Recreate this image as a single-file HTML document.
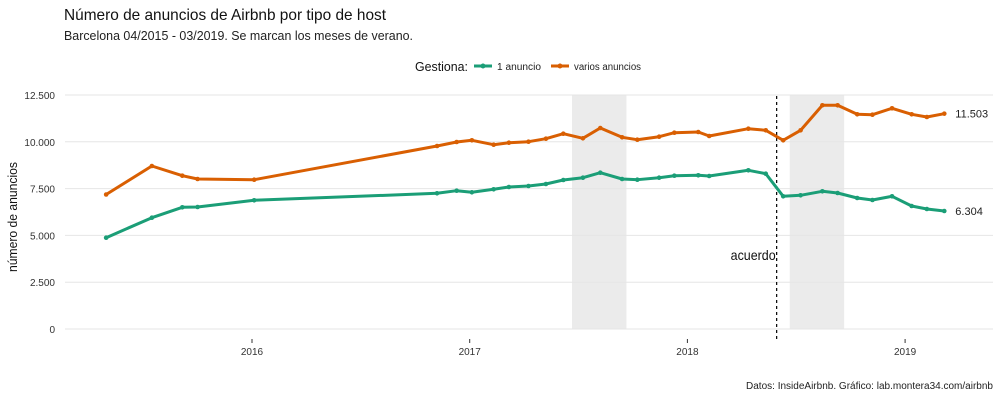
<!DOCTYPE html>
<html><head><meta charset="utf-8"><style>
body{margin:0;background:#fff;}
svg{font-family:"Liberation Sans Narrow","Liberation Sans",sans-serif;}
</style></head><body>
<svg id="chart" width="1000" height="400" viewBox="0 0 1000 400">
<text x="64" y="20" font-size="16" fill="#111" textLength="322" lengthAdjust="spacingAndGlyphs">Número de anuncios de Airbnb por tipo de host</text>
<text x="64" y="40" font-size="13" fill="#222" textLength="349" lengthAdjust="spacingAndGlyphs">Barcelona 04/2015 - 03/2019. Se marcan los meses de verano.</text>
<g>
<text x="415" y="71" font-size="13" fill="#111" textLength="53" lengthAdjust="spacingAndGlyphs">Gestiona:</text>
<g><line x1="474" y1="66" x2="492" y2="66" stroke="#1b9e77" stroke-width="3"/><circle cx="483" cy="66" r="2.5" fill="#1b9e77"/><text x="497" y="70" font-size="10" fill="#222" textLength="44" lengthAdjust="spacingAndGlyphs">1 anuncio</text></g>
<g><line x1="551" y1="66" x2="569" y2="66" stroke="#d95f02" stroke-width="3"/><circle cx="560" cy="66" r="2.5" fill="#d95f02"/><text x="574" y="70" font-size="10" fill="#222" textLength="67" lengthAdjust="spacingAndGlyphs">varios anuncios</text></g>
</g>
<g id="shades"></g><g id="grid"></g><g id="axes"></g><g id="series"></g>
<text x="12" y="212" font-size="13" fill="#111" transform="rotate(-90 17 212)" text-anchor="middle" textLength="110" lengthAdjust="spacingAndGlyphs">número de anuncios</text>
<text x="993" y="389" font-size="10" fill="#222" text-anchor="end" textLength="247" lengthAdjust="spacingAndGlyphs">Datos: InsideAirbnb. Gráfico: lab.montera34.com/airbnb</text>
</svg>
<script>
const dates=[2015.33,2015.54,2015.68,2015.75,2016.01,2016.85,2016.94,2017.01,2017.11,2017.18,2017.27,2017.35,2017.43,2017.52,2017.60,2017.70,2017.77,2017.87,2017.94,2018.05,2018.10,2018.28,2018.36,2018.44,2018.52,2018.62,2018.69,2018.78,2018.85,2018.94,2019.03,2019.10,2019.18];
const varios=[7185,8707,8189,8013,7976,9776,9989,10080,9845,9952,10005,10166,10433,10187,10737,10240,10112,10272,10486,10524,10310,10700,10614,10080,10614,11950,11950,11469,11448,11790,11469,11325,11503];
const uno=[4877,5946,6501,6517,6875,7249,7388,7303,7463,7585,7639,7746,7959,8082,8349,8013,7976,8082,8189,8210,8173,8478,8296,7089,7142,7356,7265,6998,6891,7089,6571,6410,6304];
const yTicks=[0,2500,5000,7500,10000,12500];
const yLabels=["0","2.500","5.000","7.500","10.000","12.500"];
const xTicks=[2016,2017,2018,2019];
const summers=[[2017.47,2017.72],[2018.47,2018.72]];
const acuerdo=2018.41;
const NS="http://www.w3.org/2000/svg";
const X=t=>252+(t-2016)*217.7;
const Y=v=>329-v*0.01872;
function mk(tag,attrs,parent){const e=document.createElementNS(NS,tag);for(const k in attrs)e.setAttribute(k,attrs[k]);document.getElementById(parent).appendChild(e);return e;}
summers.forEach(s=>{const r=mk('rect',{x:X(s[0]),y:95,width:X(s[1])-X(s[0]),height:234,fill:'#ebebeb'},'shades');

});
yTicks.forEach((v,i)=>{const l=mk('line',{x1:65,x2:993,y1:Y(v),y2:Y(v),stroke:'#e6e6e6','stroke-width':1},'grid');


const t=mk('text',{x:55,y:Y(v)+4,'font-size':10,fill:'#333','text-anchor':'end'},'axes');t.textContent=yLabels[i];

});
xTicks.forEach(v=>{const l=mk('line',{x1:X(v),x2:X(v),y1:339,y2:343,stroke:'#333'},'axes');


const t=mk('text',{x:X(v),y:355,'font-size':10,fill:'#333','text-anchor':'middle'},'axes');t.textContent=v;

});
const dl=mk('line',{x1:X(acuerdo),x2:X(acuerdo),y1:96,y2:340,stroke:'#000','stroke-dasharray':'3,3','stroke-width':1.2},'axes');


const at=mk('text',{x:X(acuerdo)-1,y:260,'font-size':14,fill:'#111','text-anchor':'end',textLength:45,lengthAdjust:'spacingAndGlyphs'},'axes');at.textContent='acuerdo';


function series(vals,color,name,label){
 const p=mk('polyline',{points:vals.map((v,i)=>X(dates[i])+','+Y(v)).join(' '),fill:'none',stroke:color,'stroke-width':3,'stroke-linejoin':'round'},'series');
 
 
 vals.forEach((v,i)=>{const c=mk('circle',{cx:X(dates[i]),cy:Y(v),r:2.3,fill:color},'series');
 
 });
 const n=vals.length-1;
 const t=mk('text',{x:X(dates[n])+11,y:Y(vals[n])+4,'font-size':11,fill:'#222'},'series');t.textContent=label;
 
 
}
series(varios,'#d95f02','varios-anuncios','11.503');
series(uno,'#1b9e77','1-anuncio','6.304');
</script>
</body></html>
